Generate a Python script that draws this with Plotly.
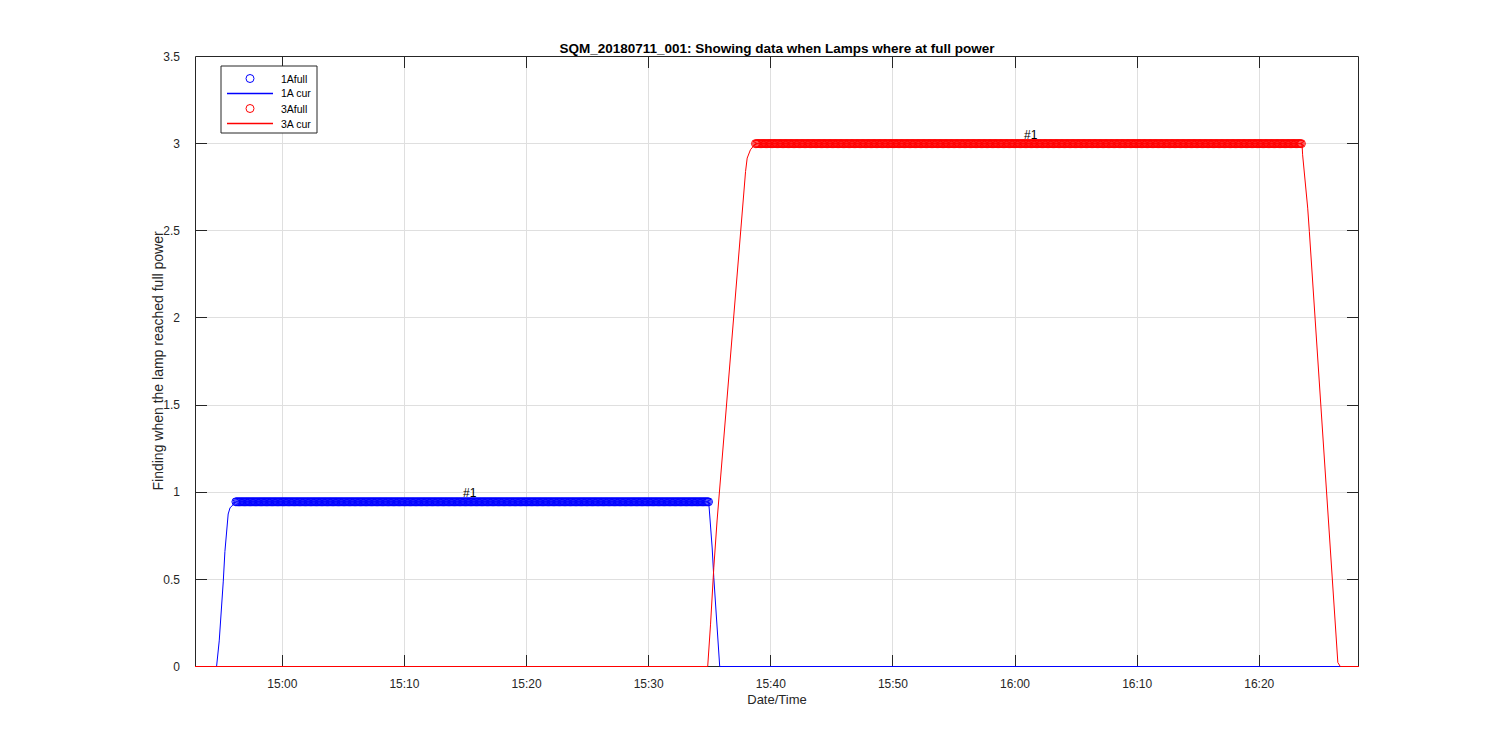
import pandas as pd
import plotly.graph_objects as go

DAY = "2018-07-11 "

# ---- data ----
x_start = "14:52:51"
x_end = "16:28:10"

# 1A current trace (time, value)
cur1_t = ["14:52:51", "14:54:37", "14:54:50", "14:55:02", "14:55:10", "14:55:18",
          "14:55:26", "14:55:34", "14:55:43", "14:55:59", "14:56:12", "15:34:55",
          "15:35:04", "15:35:12", "15:35:20", "15:35:28", "15:35:36", "15:35:44",
          "15:35:49", "16:28:10"]
cur1_v = [0, 0, 0.147, 0.338, 0.49, 0.66, 0.775, 0.875, 0.91, 0.933, 0.945, 0.945,
          0.816, 0.68, 0.51, 0.357, 0.223, 0.09, 0, 0]

# 3A current trace (time, value)
cur3_t = ["14:52:51", "15:34:50", "15:35:04", "15:35:12", "15:35:20", "15:35:36",
          "15:35:52", "15:36:42", "15:37:28", "15:37:39", "15:37:47", "15:37:56",
          "15:38:04", "15:38:20", "15:38:45", "16:23:30", "16:23:33", "16:23:41",
          "16:23:50", "16:23:58", "16:24:06", "16:25:04", "16:26:06", "16:26:17",
          "16:26:26", "16:26:38", "16:28:10"]
cur3_v = [0, 0, 0.243, 0.434, 0.567, 0.835, 1.064, 1.78, 2.449, 2.611, 2.745, 2.84,
          2.917, 2.965, 3.0, 3.0, 2.936, 2.84, 2.745, 2.63, 2.497, 1.48, 0.376, 0.147,
          0.023, 0, 0]

# full-power samples (sampled regularly while the lamp was at full power)
sample_period = "6s"
full1_start, full1_end, full1_value = "14:56:12", "15:34:55", 0.945
full3_start, full3_end, full3_value = "15:38:45", "16:23:30", 3.0

# "#1" labels
label_text = ["#1", "#1"]
label_t = ["15:14:39", "16:00:36"]
label_v = [0.995, 3.05]

legend_names = ["1Afull", "1A cur", "3Afull", "3A cur"]

title = "SQM_20180711_001: Showing data when Lamps where at full power"
xlabel = "Date/Time"
ylabel = "Finding when the lamp reached full power"


def ts(lst):
    return pd.to_datetime([DAY + t for t in lst])


full1_t = pd.date_range(DAY + full1_start, DAY + full1_end, freq=sample_period)
full3_t = pd.date_range(DAY + full3_start, DAY + full3_end, freq=sample_period)

BLUE = "#0000ff"
RED = "#ff0000"
AX = "#262626"
GRID = "#dfdfdf"
FONT = "Liberation Sans, Arial, sans-serif"

# page has an 8px body margin; figure sized so the page fits the window
PAGE_OFF = 8
W, H = 1492, 742
PL, PR, PT, PB = 195, 1359, 56, 667      # plot area edges in window pixels
Y_LO, Y_HI = 0.0, 3.5
half = 0.5 * (Y_HI - Y_LO) / (PB - PT - 1)   # half a pixel in data units


def px(sx):
    return (sx - PL) / (PR - PL)


def py(sy):
    return (PB - sy) / (PB - PT)


fig = go.Figure()
fig.add_trace(go.Scatter(x=full1_t, y=[full1_value] * len(full1_t), mode="markers",
                         name=legend_names[0],
                         marker=dict(symbol="circle-open", size=8, color=BLUE,
                                     line=dict(width=1, color=BLUE))))
fig.add_trace(go.Scatter(x=ts(cur1_t), y=cur1_v, mode="lines", name=legend_names[1],
                         line=dict(color=BLUE, width=1)))
fig.add_trace(go.Scatter(x=full3_t, y=[full3_value] * len(full3_t), mode="markers",
                         name=legend_names[2],
                         marker=dict(symbol="circle-open", size=8, color=RED,
                                     line=dict(width=1, color=RED))))
fig.add_trace(go.Scatter(x=ts(cur3_t), y=cur3_v, mode="lines", name=legend_names[3],
                         line=dict(color=RED, width=1)))

for txt, t, v in zip(label_text, label_t, label_v):
    fig.add_annotation(x=pd.Timestamp(DAY + t), y=v, text=txt, showarrow=False,
                       xanchor="left", yanchor="middle",
                       font=dict(family=FONT, size=12, color="black"))

# axes box drawn under the traces (MATLAB draws data over the box)
fig.add_shape(type="rect", xref="paper", yref="paper",
              x0=px(PL + 0.5), x1=px(PR - 0.5), y0=py(PB - 0.5), y1=py(PT + 0.5),
              line=dict(color=AX, width=1), fillcolor="rgba(0,0,0,0)", layer="between")

# ---- MATLAB-style legend box ----
fig.add_shape(type="rect", xref="paper", yref="paper",
              x0=px(221), x1=px(317), y0=py(66), y1=py(133),
              line=dict(color=AX, width=1), fillcolor="white", layer="above")
row_y = [78.5, 93.5, 108.5, 123.5]
styles = [("marker", BLUE), ("line", BLUE), ("marker", RED), ("line", RED)]
for name, ry, (kind, col) in zip(legend_names, row_y, styles):
    if kind == "line":
        fig.add_shape(type="line", xref="paper", yref="paper",
                      x0=px(227), x1=px(273), y0=py(ry), y1=py(ry),
                      line=dict(color=col, width=1.3), layer="above")
    else:
        fig.add_shape(type="circle", xref="paper", yref="paper",
                      xsizemode="pixel", ysizemode="pixel",
                      xanchor=px(250), yanchor=py(ry),
                      x0=-4, x1=4, y0=-4, y1=4,
                      line=dict(color=col, width=1), fillcolor="rgba(0,0,0,0)",
                      layer="above")
    fig.add_annotation(xref="paper", yref="paper", x=px(279), y=py(ry), text=name,
                       showarrow=False, xanchor="left", yanchor="middle",
                       font=dict(family=FONT, size=10.5, color="black"))

# y axis label, centred on the axis as in MATLAB
fig.add_annotation(xref="paper", yref="paper", x=px(157), y=0.5, text=ylabel,
                   textangle=-90, showarrow=False, xanchor="center", yanchor="middle",
                   font=dict(family=FONT, size=14, color=AX))

fig.update_layout(
    width=W, height=H,
    margin=dict(l=PL - PAGE_OFF, r=W - (PR - PAGE_OFF), t=PT - PAGE_OFF,
                b=H - (PB - PAGE_OFF)),
    paper_bgcolor="white", plot_bgcolor="white",
    font=dict(family=FONT, size=12, color=AX),
    title=dict(text="<b>" + title + "</b>",
               x=((PL + PR) / 2 - PAGE_OFF) / W, xanchor="center",
               y=1 - (48 - PAGE_OFF) / H, yanchor="middle", yref="container",
               font=dict(family=FONT, size=13.5, color="black")),
    showlegend=False,
)

fig.update_xaxes(
    type="date",
    range=[DAY + x_start, DAY + x_end],
    tick0=DAY + "15:00:00", dtick=600000, tickformat="%H:%M",
    ticks="inside", ticklen=12, tickwidth=1, tickcolor=AX,
    showline=False, mirror="allticks",
    showgrid=True, gridcolor=GRID, gridwidth=1, zeroline=False,
    layer="below traces", automargin=False,
    tickfont=dict(family=FONT, size=12, color=AX),
    ticklabelstandoff=8,
    title=dict(text=xlabel, standoff=4, font=dict(family=FONT, size=13, color=AX)),
)
fig.update_yaxes(
    range=[Y_LO - half, Y_HI + half], tick0=0, dtick=0.5,
    ticks="inside", ticklen=12, tickwidth=1, tickcolor=AX,
    showline=False, mirror="allticks",
    showgrid=True, gridcolor=GRID, gridwidth=1, zeroline=False,
    layer="below traces", automargin=False,
    tickfont=dict(family=FONT, size=12, color=AX),
    ticklabelstandoff=14,
)

fig.write_html("out.html")
